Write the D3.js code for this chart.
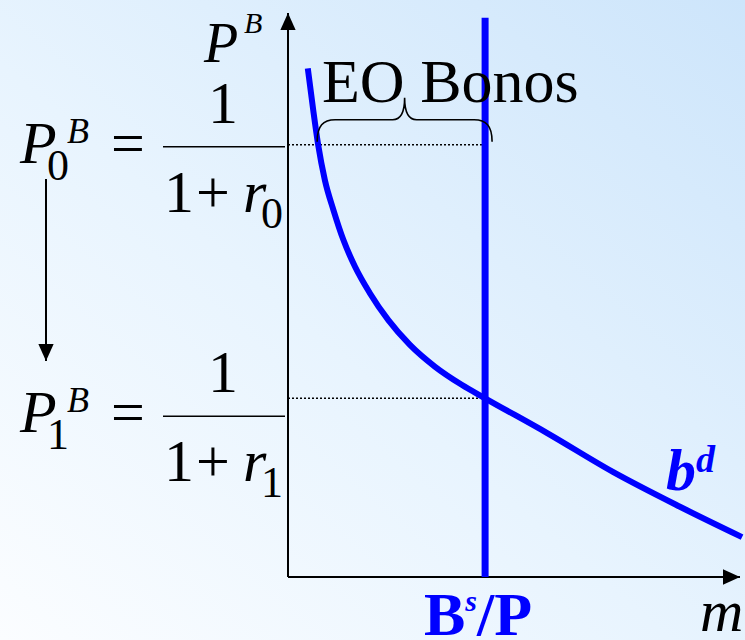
<!DOCTYPE html>
<html>
<head>
<meta charset="utf-8">
<script src="https://cdn.jsdelivr.net/npm/d3@7"></script>
<style>
  body { margin: 0; }
</style>
</head>
<body>
<div id="chart"></div>
<script>
// demand curve for bonds (b^d)
const curveM = [4.4, 5.6, 6.7, 8.2, 10.1, 12.3, 14.9, 18.2, 22.3, 27.1, 32.7, 38.6, 43.8, 57.6, 72.2, 87.1, 100.9];
const curveP = [90.5, 83.1, 76.9, 70.6, 65.3, 60.0, 55.2, 50.5, 45.7, 41.3, 37.4, 34.2, 31.8, 25.6, 18.7, 12.5, 7.1];
// bond supply B^s/P (vertical)
const supplyM = 43.8;
// price levels P0 and P1
const priceLevels = [76.9, 31.8];
const priceSubs = ["0", "1"];

const width = 745, height = 640;
const serif = "'Liberation Serif', Tinos, 'Times New Roman', Times, 'DejaVu Serif', serif";

const svg = d3.select("#chart")
  .append("svg")
    .attr("width", width)
    .attr("height", height)
    .attr("font-family", serif);

// background gradient
const defs = svg.append("defs");
const grad = defs.append("linearGradient")
    .attr("id", "bg")
    .attr("x1", 0).attr("y1", 1)
    .attr("x2", 1).attr("y2", 0);
grad.append("stop").attr("offset", "0%").attr("stop-color", "#fbfdff");
grad.append("stop").attr("offset", "45%").attr("stop-color", "#e8f4fe");
grad.append("stop").attr("offset", "100%").attr("stop-color", "#cde5fb");

svg.append("rect")
    .attr("width", width)
    .attr("height", height)
    .attr("fill", "url(#bg)");

// scales
const xScale = d3.scaleLinear().domain([0, 100]).range([288, 738]);
const yScale = d3.scaleLinear().domain([0, 100]).range([577, 15]);

// arrow marker
const big = defs.append("marker")
    .attr("id", "arrowBig")
    .attr("viewBox", "0 0 10 10")
    .attr("refX", 10).attr("refY", 5)
    .attr("markerWidth", 17).attr("markerHeight", 17)
    .attr("markerUnits", "userSpaceOnUse")
    .attr("orient", "auto");
big.append("path").attr("d", "M0,0.5 L10,5 L0,9.5 Z").attr("fill", "#000");

// axes
svg.append("line")
    .attr("x1", xScale(0)).attr("y1", yScale(0))
    .attr("x2", xScale(0)).attr("y2", yScale(100) - 2)
    .attr("stroke", "#000").attr("stroke-width", 2)
    .attr("marker-end", "url(#arrowBig)");

svg.append("line")
    .attr("x1", xScale(0)).attr("y1", yScale(0))
    .attr("x2", xScale(100) + 2).attr("y2", yScale(0))
    .attr("stroke", "#000").attr("stroke-width", 2)
    .attr("marker-end", "url(#arrowBig)");

// dotted price lines
svg.selectAll(".dots")
  .data(priceLevels)
  .enter().append("line")
    .attr("class", "dots")
    .attr("x1", xScale(0))
    .attr("x2", xScale(supplyM))
    .attr("y1", d => yScale(d))
    .attr("y2", d => yScale(d))
    .attr("stroke", "#000")
    .attr("stroke-width", 1.5)
    .attr("stroke-dasharray", "2,2");

// supply line
svg.append("line")
    .attr("x1", xScale(supplyM)).attr("x2", xScale(supplyM))
    .attr("y1", yScale(0)).attr("y2", yScale(99.5))
    .attr("stroke", "#0000ff")
    .attr("stroke-width", 7);

// demand curve
const pts = curveM.map((m, i) => [m, curveP[i]]);
svg.append("path")
    .datum(pts)
    .attr("fill", "none")
    .attr("stroke", "#0000ff")
    .attr("stroke-width", 6)
    .attr("d", d3.line()
      .x(d => xScale(d[0]))
      .y(d => yScale(d[1]))
      .curve(d3.curveMonotoneX));

// brace over excess supply
const bl = xScale(curveM[2]) - 1, br = xScale(supplyM) + 7;
const by = yScale(priceLevels[0]) - 3, bt = by - 22, bm = (bl + br) / 2;
svg.append("path")
    .attr("d", `M${bl},${by} C${bl},${bt + 6} ${bl + 6},${bt} ${bl + 18},${bt}
      L${bm - 12},${bt} C${bm - 4},${bt} ${bm},${bt - 8} ${bm},${bt - 22}
      C${bm},${bt - 8} ${bm + 4},${bt} ${bm + 12},${bt}
      L${br - 18},${bt} C${br - 6},${bt} ${br},${bt + 6} ${br},${by}`)
    .attr("fill", "none")
    .attr("stroke", "#000")
    .attr("stroke-width", 1.6);

svg.append("text")
    .attr("x", 322).attr("y", 102)
    .style("font-size", "62px")
    .text("EO Bonos");

// axis labels
svg.append("text").attr("x", 204).attr("y", 62)
    .style("font-size", "56px").style("font-style", "italic").text("P");
svg.append("text").attr("x", 244).attr("y", 33)
    .style("font-size", "30px").style("font-style", "italic").text("B");

svg.append("text")
    .attr("x", 700).attr("y", 631)
    .style("font-size", "60px")
    .style("font-style", "italic")
    .text("m");

const bs = svg.append("text")
    .attr("x", 424).attr("y", 635)
    .attr("fill", "#0000ff")
    .style("font-weight", "bold")
    .style("font-size", "62px");
bs.append("tspan").text("B");
bs.append("tspan").attr("dy", -24).style("font-size", "30px").style("font-style", "italic").text("s");
bs.append("tspan").attr("dy", 24).text("/P");

const bd = svg.append("text")
    .attr("x", 666).attr("y", 490)
    .attr("fill", "#0000ff")
    .style("font-weight", "bold")
    .style("font-style", "italic")
    .style("font-size", "60px");
bd.append("tspan").text("b");
bd.append("tspan").attr("dy", -18).style("font-size", "38px").text("d");

// price equations on the left
priceLevels.forEach((p, i) => {
  const fy = yScale(p) + (i === 0 ? 2 : 18); // fraction bar
  const g = svg.append("g");
  g.append("text").attr("x", 20).attr("y", fy + 16)
      .style("font-size", "60px").style("font-style", "italic").text("P");
  g.append("text").attr("x", 47).attr("y", fy + 33)
      .style("font-size", "44px").text(priceSubs[i]);
  g.append("text").attr("x", 67).attr("y", fy - 4)
      .style("font-size", "36px").style("font-style", "italic").text("B");
  g.append("text").attr("x", 111).attr("y", fy + 16)
      .style("font-size", "60px").text("=");
  g.append("text").attr("x", 223).attr("y", fy - 24)
      .attr("text-anchor", "middle")
      .style("font-size", "60px").text("1");
  g.append("line")
      .attr("x1", 163).attr("x2", xScale(0) - 3)
      .attr("y1", fy).attr("y2", fy)
      .attr("stroke", "#000").attr("stroke-width", 1.5);
  g.append("text").attr("x", 164).attr("y", fy + 65)
      .style("font-size", "60px").text("1");
  g.append("text").attr("x", 196).attr("y", fy + 65)
      .style("font-size", "60px").text("+");
  g.append("text").attr("x", 243).attr("y", fy + 65)
      .style("font-size", "60px").style("font-style", "italic").text("r");
  g.append("text").attr("x", 261).attr("y", fy + 81)
      .style("font-size", "44px").text(priceSubs[i]);
});

// arrow from P0 down to P1
svg.append("line")
    .attr("x1", 46).attr("x2", 46)
    .attr("y1", 179).attr("y2", 361)
    .attr("stroke", "#000").attr("stroke-width", 2)
    .attr("marker-end", "url(#arrowBig)");
</script>
</body>
</html>
